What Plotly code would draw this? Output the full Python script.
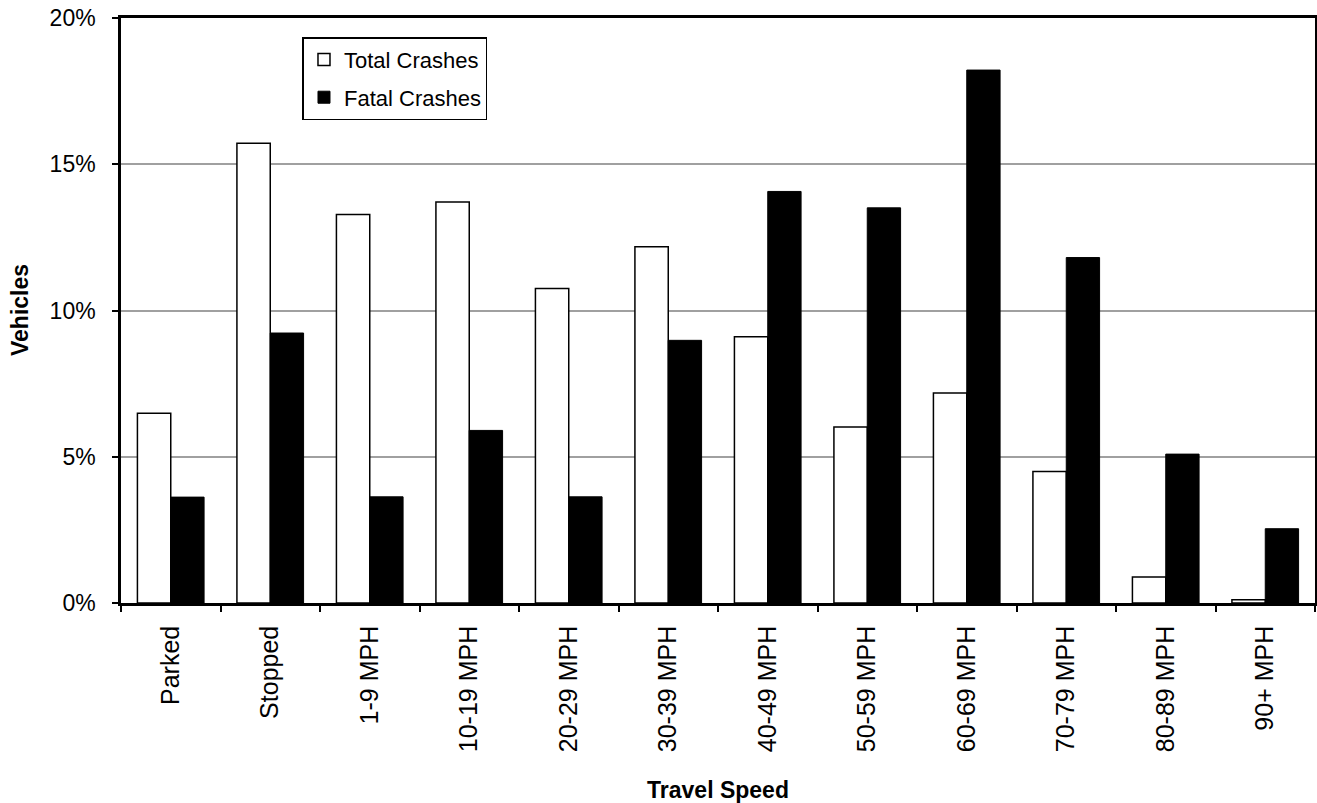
import plotly.graph_objects as go

# Travel speed categories and share of vehicles (%)
speed_categories = [
    "Parked", "Stopped", "1-9 MPH", "10-19 MPH", "20-29 MPH", "30-39 MPH",
    "40-49 MPH", "50-59 MPH", "60-69 MPH", "70-79 MPH", "80-89 MPH", "90+ MPH",
]
total_crashes = [6.49, 15.72, 13.28, 13.71, 10.75, 12.18, 9.10, 6.02, 7.18, 4.50, 0.89, 0.11]
fatal_crashes = [3.62, 9.23, 3.63, 5.90, 3.63, 8.98, 14.07, 13.51, 18.22, 11.81, 5.09, 2.54]
y_ticks = [0, 5, 10, 15, 20]
y_tick_labels = [f"{v}%" for v in y_ticks]

FONT = "Liberation Sans, Arial, sans-serif"

fig = go.Figure()

fig.add_trace(
    go.Bar(
        name="Total Crashes",
        x=speed_categories,
        y=total_crashes,
        legendgroup="total",
        marker=dict(color="white", line=dict(color="black", width=1.5)),
    )
)
fig.add_trace(
    go.Bar(
        name="Fatal Crashes",
        x=speed_categories,
        y=fatal_crashes,
        legendgroup="fatal",
        marker=dict(color="black", line=dict(color="black", width=1)),
    )
)

fig.update_layout(
    width=1317,
    height=803,
    barmode="group",
    bargap=0.33,
    bargroupgap=0,
    plot_bgcolor="white",
    paper_bgcolor="white",
    font=dict(family=FONT, size=20, color="black"),
    margin=dict(l=121, r=2, t=18, b=200),
    legend=dict(
        x=0.152,
        y=0.967,
        xanchor="left",
        yanchor="top",
        bgcolor="white",
        bordercolor="black",
        borderwidth=1.5,
        font=dict(size=22),
        traceorder="grouped",
        tracegroupgap=6,
    ),
)

# y-axis title as a rotated annotation, placed further left than standoff allows
fig.add_annotation(
    text="<b>Vehicles</b>",
    xref="paper",
    yref="paper",
    x=-0.085,
    y=0.5,
    xanchor="center",
    yanchor="middle",
    textangle=-90,
    showarrow=False,
    font=dict(size=23),
)

fig.update_xaxes(
    showline=True,
    linecolor="black",
    linewidth=2.5,
    mirror=True,
    ticks="outside",
    ticklen=6,
    tickwidth=1.5,
    tickcolor="black",
    tickson="boundaries",
    tickangle=-90,
    tickfont=dict(size=25),
    ticklabelstandoff=10,
    title=dict(text="<b>Travel Speed</b>", font=dict(size=23), standoff=36),
    showgrid=False,
    automargin=False,
)
fig.update_yaxes(
    range=[0, 20],
    tickvals=y_ticks,
    ticktext=y_tick_labels,
    showline=True,
    linecolor="black",
    linewidth=2.5,
    mirror=True,
    ticks="outside",
    ticklen=6,
    tickwidth=1.5,
    tickcolor="black",
    tickfont=dict(size=23),
    ticklabelstandoff=12,
    showgrid=True,
    gridcolor="#a0a0a0",
    gridwidth=1.5,
    zeroline=False,
    automargin=False,
)

# drop the default page margin so the figure sits at the window origin
fig.write_html(
    "out.html",
    config={"displayModeBar": False},
    post_script="document.body.style.margin='0';",
)
